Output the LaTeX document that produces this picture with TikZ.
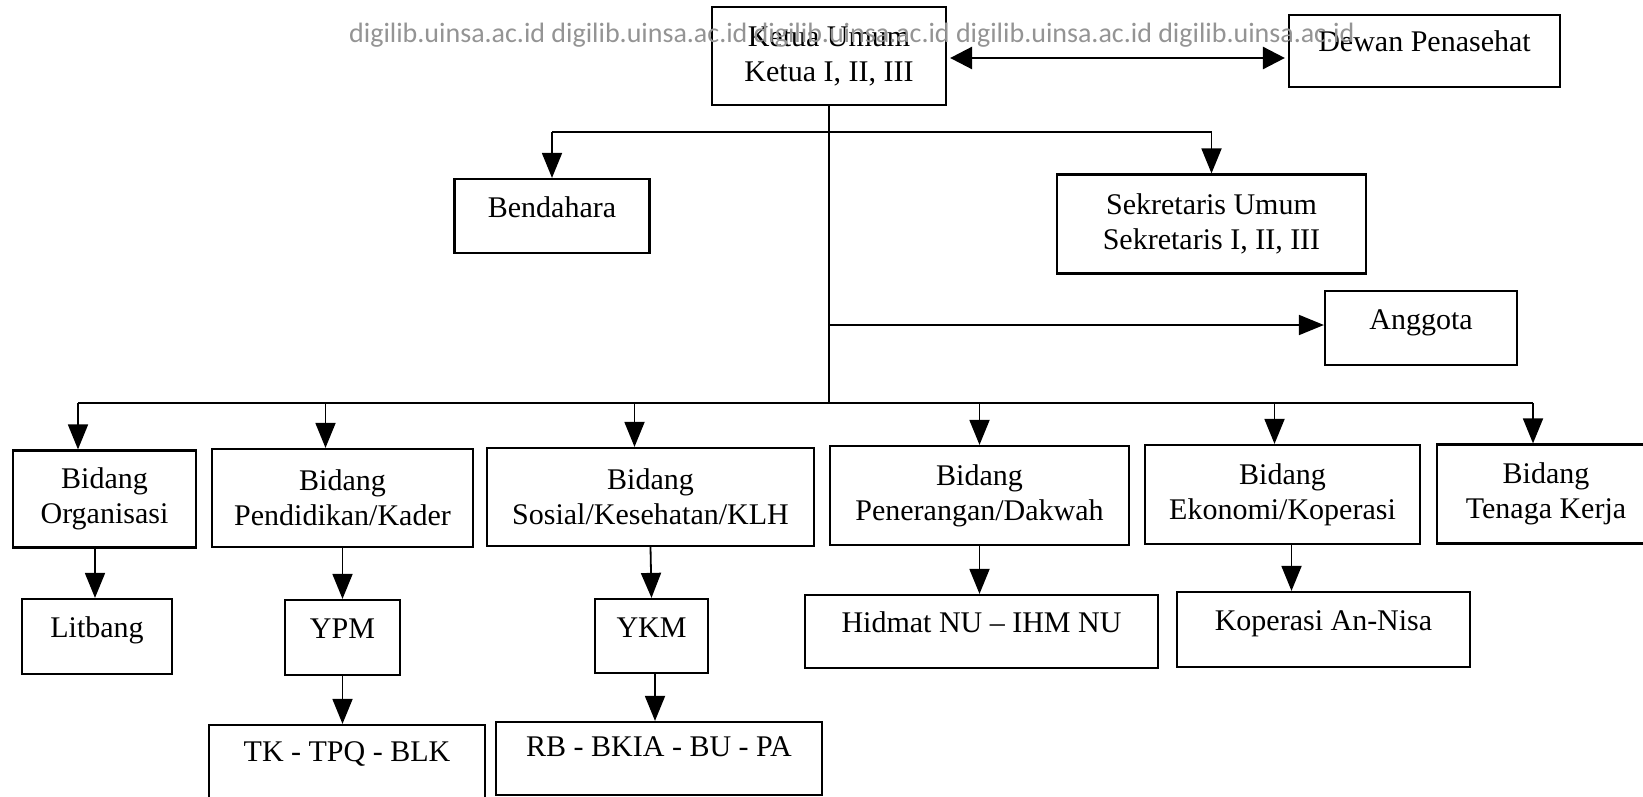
\documentclass[tikz,border=0pt]{standalone}
\usepackage{fontspec}
\setmainfont{Liberation Serif}
\newfontfamily\wmfont{Carlito}
\usetikzlibrary{arrows.meta}
\begin{document}
\begin{tikzpicture}[x=1pt,y=-1pt,
  box/.style={draw=black,line width=2.2pt,rectangle,inner sep=0pt,align=center,
    font=\fontsize{30}{35}\selectfont},
  one/.style={text height=18pt,text depth=16pt},
  conn/.style={line width=1.8pt},
  arr/.style={line width=1.8pt,-{Triangle[length=25pt,width=20pt]}},
  darr/.style={line width=2.6pt,{Triangle[length=22pt,width=22pt]}-{Triangle[length=22pt,width=22pt]}},
  wm/.style={text=black!42,font=\wmfont\fontsize{28}{30}\selectfont,inner sep=0pt,anchor=west}
]
\useasboundingbox (0,0) rectangle (1643,797);
\fill[white] (0,0) rectangle (1643,797);

% top
\node[box,minimum width=234pt,minimum height=98pt] (ketua) at (829,56) {Ketua Umum\\Ketua I, II, III};
\node[box,one,minimum width=271pt,minimum height=72pt] (dewan) at (1424.5,51) {Dewan Penasehat};
\node[box,one,minimum width=195pt,minimum height=74pt] (bend) at (552,216) {Bendahara};
\node[box,minimum width=309pt,minimum height=99pt] (sek) at (1211.5,224) {Sekretaris Umum\\Sekretaris I, II, III};
\node[box,one,minimum width=192pt,minimum height=74pt] (ang) at (1421,328) {Anggota};

% bidang
\node[box,minimum width=183pt,minimum height=97pt] (org) at (104.5,499) {Bidang\\Organisasi};
\node[box,minimum width=261pt,minimum height=98pt] (pend) at (342.5,498) {Bidang\\Pendidikan/Kader};
\node[box,minimum width=327pt,minimum height=98pt] (sos) at (650.5,497) {Bidang\\Sosial/Kesehatan/KLH};
\node[box,minimum width=299pt,minimum height=99pt] (pen) at (979.5,495.5) {Bidang\\Penerangan/Dakwah};
\node[box,minimum width=275pt,minimum height=99pt] (eko) at (1282.5,494.5) {Bidang\\Ekonomi/Koperasi};
\node[box,minimum width=218pt,minimum height=99pt] (ten) at (1546,494) {Bidang\\Tenaga Kerja};

% lower
\node[box,one,minimum width=150pt,minimum height=75pt] (lit) at (97,636.5) {Litbang};
\node[box,one,minimum width=115pt,minimum height=75pt] (ypm) at (342.5,637.5) {YPM};
\node[box,one,minimum width=113pt,minimum height=74pt] (ykm) at (651.5,636) {YKM};
\node[box,one,minimum width=353pt,minimum height=73pt] (hid) at (981.5,631.5) {Hidmat NU – IHM NU};
\node[box,one,minimum width=293pt,minimum height=75pt] (kop) at (1323.5,629.5) {Koperasi An-Nisa};
\node[box,one,minimum width=276pt,minimum height=80pt,text depth=26pt] (tk) at (347,765) {TK - TPQ - BLK};
\node[box,one,minimum width=326pt,minimum height=73pt,text depth=22pt] (rb) at (659,758.5) {RB - BKIA - BU - PA};

% coordinates
\coordinate (bus1) at (829,132);
\coordinate (angj) at (829,325);
\coordinate (bus2) at (829,403);

% connectors
\draw[darr,shorten <=3pt,shorten >=3pt] ([yshift=-2pt]ketua.east) -- ([yshift=-7pt]dewan.west);
\draw[conn] (ketua.south) -- (bus2);
\draw[conn] (bus1 -| bend.north) -- (bus1 -| sek.north);
\draw[arr] (bus1 -| bend.north) -- (bend.north);
\draw[arr] (bus1 -| sek.north) -- (sek.north);
\draw[arr] (angj) -- (angj -| ang.west);

\draw[conn] ([xshift=-26.5pt]bus2 -| org.north) -- ([xshift=-13pt]bus2 -| ten.north);
\draw[arr] ([xshift=-26.5pt]bus2 -| org.north) -- ([xshift=-26.5pt]org.north);
\draw[arr] ([xshift=-17pt]bus2 -| pend.north) -- ([xshift=-17pt]pend.north);
\draw[arr] ([xshift=-16pt]bus2 -| sos.north) -- ([xshift=-16pt]sos.north);
\draw[arr] (bus2 -| pen.north) -- (pen.north);
\draw[arr] ([xshift=-8pt]bus2 -| eko.north) -- ([xshift=-8pt]eko.north);
\draw[arr] ([xshift=-13pt]bus2 -| ten.north) -- ([xshift=-13pt]ten.north);

\draw[arr] ([xshift=-2pt]lit.north |- org.south) -- ([xshift=-2pt]lit.north);
\draw[arr] (pend.south) -- (ypm.north);
\draw[arr] (sos.south) -- (ykm.north);
\draw[arr] (ypm.south) -- (ypm.south |- tk.north);
\draw[arr] ([xshift=-4pt]rb.north |- ykm.south) -- ([xshift=-4pt]rb.north);
\draw[arr] (pen.south) -- (pen.south |- hid.north);
\draw[arr] ([xshift=9pt]eko.south) -- ([xshift=9pt]eko.south |- kop.north);

% watermark
\node[wm] (wmark) at (349,35) {digilib.uinsa.ac.id digilib.uinsa.ac.id digilib.uinsa.ac.id digilib.uinsa.ac.id digilib.uinsa.ac.id};
\end{tikzpicture}
\end{document}
